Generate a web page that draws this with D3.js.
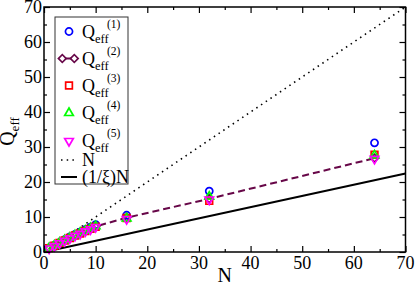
<!DOCTYPE html>
<html>
<head>
<meta charset="utf-8">
<script src="https://cdn.jsdelivr.net/npm/d3@7"></script>
<style>
  body { margin: 0; background: #fff; }
  svg, svg text { font-family: "Liberation Serif", "DejaVu Serif", serif; }
</style>
</head>
<body>
<div id="chart"></div>
<script>
// data
const nValues = [1, 2, 3, 4, 5, 6, 7, 8, 9, 10, 16, 32, 64];
const q1 = [1.2, 1.9, 2.7, 3.5, 4.3, 5.0, 5.7, 6.4, 7.1, 7.8, 10.5, 17.4, 31.2];
const q2 = [1.1, 1.8, 2.6, 3.3, 4.0, 4.7, 5.4, 6.0, 6.7, 7.3, 9.8, 15.2, 26.8];
const q3 = [1.1, 1.8, 2.6, 3.3, 4.0, 4.7, 5.3, 6.0, 6.6, 7.2, 9.7, 14.6, 27.8];
const q4 = [1.2, 1.9, 2.7, 3.4, 4.1, 4.8, 5.5, 6.1, 6.8, 7.4, 9.6, 15.8, 27.6];
const q5 = [1.0, 1.7, 2.5, 3.2, 3.9, 4.6, 5.2, 5.9, 6.5, 7.1, 9.4, 15.0, 26.6];
const invXi = 0.32;
const lineEnds = [0, 70];
const majorTicks = [0, 10, 20, 30, 40, 50, 60, 70];
const minorTicks = [5, 15, 25, 35, 45, 55, 65];
const seriesNames = ["(1)", "(2)", "(3)", "(4)", "(5)"];

const W = 415, H = 285;
const margin = {top: 7, right: 9.5, bottom: 33, left: 44};

const svg = d3.select("#chart").append("svg")
    .attr("width", W).attr("height", H);

const x = d3.scaleLinear().domain([0, 70]).range([margin.left, W - margin.right]);
const y = d3.scaleLinear().domain([0, 70]).range([H - margin.bottom, margin.top]);

const maroon = "#670748";

// lines
const line = d3.line().x(d => x(d[0])).y(d => y(d[1]));

svg.append("path")
    .datum(lineEnds.map(n => [n, n]))
    .attr("d", line)
    .attr("fill", "none").attr("stroke", "#000")
    .attr("stroke-width", 1.6).attr("stroke-dasharray", "1.5,4.2");

svg.append("path")
    .datum(lineEnds.map(n => [n, n * invXi]))
    .attr("d", line)
    .attr("fill", "none").attr("stroke", "#000")
    .attr("stroke-width", 2);

svg.append("path")
    .datum(nValues.map((n, i) => [n, q2[i]]))
    .attr("d", line)
    .attr("fill", "none").attr("stroke", maroon)
    .attr("stroke-width", 2).attr("stroke-dasharray", "7,4");

// markers
const styles = [
  {data: q1, color: "#0000ff", type: d3.symbolCircle, size: 40, rot: 0},
  {data: q2, color: maroon, type: d3.symbolSquare, size: 30, rot: 45},
  {data: q3, color: "#ff0000", type: d3.symbolSquare, size: 45, rot: 0},
  {data: q4, color: "#00ff00", type: d3.symbolTriangle, size: 32, rot: 0},
  {data: q5, color: "#ff00ff", type: d3.symbolTriangle, size: 32, rot: 180}
];

styles.forEach(s => {
  svg.append("g").selectAll("path")
      .data(nValues.map((n, i) => [n, s.data[i]]))
      .enter().append("path")
      .attr("d", d3.symbol().type(s.type).size(s.size))
      .attr("transform", d => `translate(${x(d[0])},${y(d[1])}) rotate(${s.rot})`)
      .attr("fill", "none")
      .attr("stroke", s.color)
      .attr("stroke-width", 1.7);
});

// axes: ticks from d3 axes, pointing inward on all four sides
const plotH = H - margin.bottom - margin.top;
const plotW = W - margin.right - margin.left;

function tickStyle(g) {
  g.select(".domain").remove();
  g.selectAll("line").attr("stroke", "#000").attr("stroke-width", 1.2);
}

[[majorTicks, -6], [minorTicks, -3]].forEach(([vals, len]) => {
  svg.append("g").attr("transform", `translate(0,${H - margin.bottom})`)
      .call(d3.axisBottom(x).tickValues(vals).tickSize(len).tickFormat("")).call(tickStyle);
  svg.append("g").attr("transform", `translate(0,${margin.top})`)
      .call(d3.axisTop(x).tickValues(vals).tickSize(len).tickFormat("")).call(tickStyle);
  svg.append("g").attr("transform", `translate(${margin.left},0)`)
      .call(d3.axisLeft(y).tickValues(vals).tickSize(len).tickFormat("")).call(tickStyle);
  svg.append("g").attr("transform", `translate(${W - margin.right},0)`)
      .call(d3.axisRight(y).tickValues(vals).tickSize(len).tickFormat("")).call(tickStyle);
});

// tick labels
svg.append("g").selectAll("text")
    .data(majorTicks).enter().append("text")
    .attr("x", d => x(d)).attr("y", 268.5)
    .attr("text-anchor", "middle").attr("font-size", 18)
    .text(d => d);

svg.append("g").selectAll("text")
    .data(majorTicks).enter().append("text")
    .attr("x", 42).attr("y", d => y(d) + 6)
    .attr("text-anchor", "end").attr("font-size", 18)
    .text(d => d);

// frame
svg.append("rect")
    .attr("x", margin.left).attr("y", margin.top)
    .attr("width", plotW).attr("height", plotH)
    .attr("fill", "none").attr("stroke", "#000").attr("stroke-width", 1.5);

// axis titles
svg.append("text")
    .attr("x", x(35)).attr("y", 282)
    .attr("text-anchor", "middle").attr("font-size", 20)
    .text("N");

const yt = svg.append("text")
    .attr("transform", `translate(14,${y(35) + 2}) rotate(-90)`)
    .attr("text-anchor", "middle").attr("font-size", 20);
yt.append("tspan").text("Q");
yt.append("tspan").attr("font-size", 13).attr("dy", 5).text("eff");

// legend
const leg = svg.append("g");
leg.append("rect")
    .attr("x", 55).attr("y", 17).attr("width", 73).attr("height", 167)
    .attr("fill", "#fff").attr("stroke", "#333").attr("stroke-width", 1);

const rowY = [31.5, 58.5, 85.5, 113, 141];
styles.forEach((s, i) => {
  const cy = rowY[i];
  if (i === 1) {
    leg.append("line").attr("x1", 62).attr("x2", 75).attr("y1", cy).attr("y2", cy)
        .attr("stroke", s.color).attr("stroke-width", 2);
    [62.3, 74.3].forEach(px => {
      leg.append("path")
          .attr("d", d3.symbol().type(s.type).size(s.size))
          .attr("transform", `translate(${px},${cy}) rotate(45)`)
          .attr("fill", "#fff").attr("stroke", s.color).attr("stroke-width", 1.7);
    });
  } else {
    leg.append("path")
        .attr("d", d3.symbol().type(s.type).size(s.size))
        .attr("transform", `translate(69,${cy}) rotate(${s.rot})`)
        .attr("fill", "none").attr("stroke", s.color).attr("stroke-width", 1.7);
  }
  const t = leg.append("text").attr("x", 82).attr("y", cy + 6).attr("font-size", 18);
  t.append("tspan").text("Q");
  t.append("tspan").attr("font-size", 12.5).attr("dy", 5).text("eff");
  leg.append("text").attr("x", 107).attr("y", cy - 4).attr("font-size", 11.5).text(seriesNames[i]);
});

leg.append("line").attr("x1", 61).attr("x2", 77).attr("y1", 160).attr("y2", 160)
    .attr("stroke", "#000").attr("stroke-width", 1.6).attr("stroke-dasharray", "1.5,4.2");
leg.append("text").attr("x", 82).attr("y", 166).attr("font-size", 18).text("N");
leg.append("line").attr("x1", 61).attr("x2", 77).attr("y1", 177).attr("y2", 177)
    .attr("stroke", "#000").attr("stroke-width", 2);
leg.append("text").attr("x", 82).attr("y", 183).attr("font-size", 18).text("(1/ξ)N");
</script>
</body>
</html>
